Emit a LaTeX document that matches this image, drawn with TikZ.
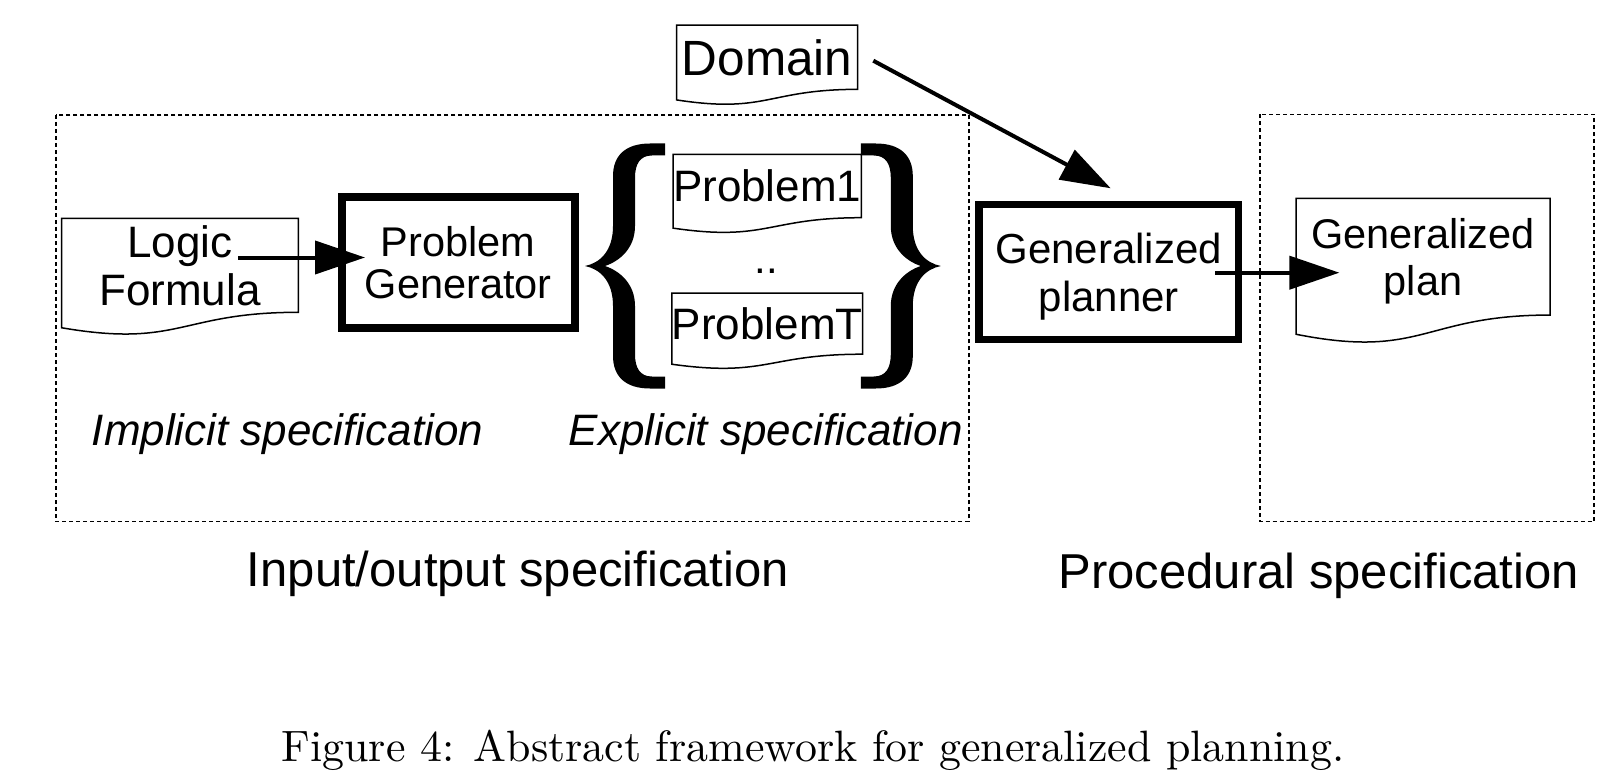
\documentclass[tikz,border=0pt]{standalone}
\usepackage{fontspec}
\newfontfamily\arial{Liberation Sans}
\usetikzlibrary{arrows.meta,calc}

\newcommand{\docoutline}[1]{%
  \draw[docline] (#1.north west) -- (#1.north east) -- (#1.south east)
    .. controls (#1.south) and ($(#1.north)!1.381!(#1.south)$) ..
    ($(#1.north west)!1.1646!(#1.south west)$) -- cycle;}

\newcommand{\bracefill}{%
  \fill (0,0) .. controls (15,-3) and (28,-15) .. (28,-40) -- (28,-90)
    .. controls (28,-110) and (40,-122.5) .. (65,-122.5) -- (80,-122.5) -- (80,-110.5) -- (67,-110.5)
    .. controls (55,-110.5) and (50,-102) .. (50,-88) -- (50,-40)
    .. controls (50,-18) and (35,-5) .. (20,0)
    .. controls (35,5) and (50,18) .. (50,40) -- (50,88)
    .. controls (50,102) and (55,110.5) .. (67,110.5) -- (80,110.5) -- (80,122.5) -- (65,122.5)
    .. controls (40,122.5) and (28,110) .. (28,90) -- (28,40)
    .. controls (28,15) and (15,3) .. (0,0) -- cycle;}

\begin{document}
\begin{tikzpicture}[x=1pt,y=-1pt,
  doc/.style={inner sep=0pt, outer sep=0pt, align=center, text depth=0pt},
  docline/.style={line width=1.5pt, line join=miter},
  thickbox/.style={draw, line width=8pt, inner sep=0pt, outer sep=0pt, align=center, text depth=0pt, fill=white},
  arr/.style={line width=4pt, -{Triangle[length=50pt,width=33pt]}},
  dashbox/.style={line width=1.5pt, dash pattern=on 4pt off 3pt},
  ftxt/.style={font={\arial\fontsize{42}{48}\selectfont}},
  ptxt/.style={font={\arial\fontsize{44}{48}\selectfont}},
  itxt/.style={font={\arial\itshape\fontsize{44}{50}\selectfont}, anchor=base, inner sep=0pt},
  btxt/.style={font={\arial\fontsize{49}{54}\selectfont}, anchor=base, inner sep=0pt}
]
\useasboundingbox (0,0) rectangle (1619,778);

% dashed frames
\draw[dashbox] (56,115) rectangle (969,521.7);
\draw[dashbox] (1260,114.3) rectangle (1594,521.7);

% documents
\node[doc, font={\arial\fontsize{44}{48.3}\selectfont}, minimum width=236.6pt, minimum height=94pt] (logic) at (180,265.3) {Logic\\Formula};
\docoutline{logic}
\node[doc, font={\arial\fontsize{49.5}{56}\selectfont}, minimum width=181pt, minimum height=64.3pt] (domain) at (767.2,57.2) {Domain};
\docoutline{domain}
\node[doc, ptxt, minimum width=181pt, minimum height=63.4pt] (p1) at (767.2,186) {Problem1};
\docoutline{p1}
\node[doc, ptxt, minimum width=181pt, minimum height=61pt] (pT) at (767.2,323.7) {ProblemT};
\docoutline{pT}
\node[doc, font={\arial\fontsize{41.5}{46.7}\selectfont}, minimum width=254pt, minimum height=116.7pt] (plan) at (1423,256.7) {Generalized\\plan};
\docoutline{plan}
\node[ftxt, anchor=base, inner sep=0pt] (dots) at (766.5,273) {..};

% thick boxes
\node[thickbox, font={\arial\fontsize{41.5}{42}\selectfont}, minimum width=233.5pt, minimum height=130pt] (pg) at (458.25,262.5) {Problem\\Generator};
\node[thickbox, ftxt, line width=7.5pt, minimum width=259.6pt, minimum height=135pt] (gp) at (1108.8,272) {Generalized\\planner};

% braces
\begin{scope}[shift={(585,266)}]
  \bracefill
\end{scope}
\begin{scope}[shift={(940.8,266)}, xscale=-1]
  \bracefill
\end{scope}

% labels
\node[itxt] (impl) at (287.5,445) {Implicit specification};
\node[itxt] (expl) at (765.7,445) {Explicit specification};
\node[btxt] (io) at (518,586.7) {Input/output specification};
\node[btxt] (proc) at (1318.8,588.3) {Procedural specification};
\node[anchor=base, scale=4.39, font=\fontsize{10}{12}\selectfont, inner sep=0pt] (cap) at (813,761.7) {Figure 4: Abstract framework for generalized planning.};

% arrows
\coordinate (a1s) at ($(logic.east)+(-60,-7.8)$);
\coordinate (a1e) at ($(pg.west)+(23.5,-5)$);
\draw[arr] (a1s) -- (a1e);
\coordinate (a2s) at ($(domain.east)+(15.6,3.5)$);
\coordinate (a2e) at ($(gp.north)+(1.9,-16.2)$);
\draw[arr] (a2s) -- (a2e);
\coordinate (a3s) at ($(gp.east)+(-23.6,0.7)$);
\coordinate (a3e) at ($(plan.west)+(43.4,16)$);
\draw[arr] (a3s) -- (a3e);
\end{tikzpicture}
\end{document}
